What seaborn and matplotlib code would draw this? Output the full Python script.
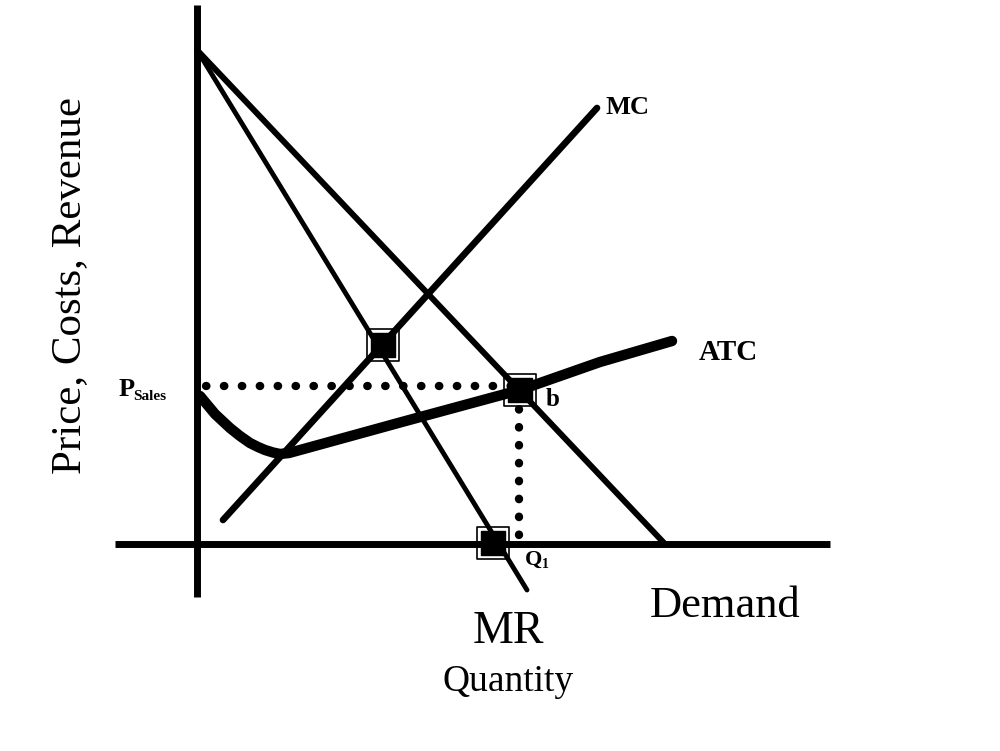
import matplotlib
matplotlib.use("Agg")
import matplotlib.pyplot as plt
import seaborn as sns
import pandas as pd

# economic units: quantity to the right of the price axis, price above the quantity axis
demand_q = [0.0, 46.8]
demand_p = [49.4, 0.0]
mr_q = [0.0, 33.0]
mr_p = [49.4, -4.6]
mc_q = [2.6, 40.0]
mc_p = [2.4, 43.6]
atc_q = [0.3, 1.8, 3.3, 4.3, 5.3, 6.1, 6.8, 7.6, 8.3, 9.2, 10.3, 20.3, 32.3, 36.3, 40.3, 47.5]
atc_p = [14.8, 13.0, 11.6, 10.8, 10.1, 9.7, 9.4, 9.15, 9.0, 9.1, 9.4, 12.15, 15.4, 16.8, 18.2, 20.3]

p_sales = 15.8
q1 = 32.2
square_q = [18.6, 32.3, 29.6]
square_p = [19.9, 15.4, 0.1]

sns.set_style("white")
plt.rcParams['font.family'] = ['Liberation Serif', 'DejaVu Serif']
plt.rcParams['text.color'] = 'black'

fig = plt.figure(figsize=(10, 7.51), dpi=100)
ax = fig.add_axes([0, 0, 1, 1])
ax.set_xlim(-19.7, 80.3)
ax.set_ylim(-20.7, 54.4)
ax.axis("off")

# axes of the diagram
ax.plot([0, 0], [-5.3, 53.9], color="black", lw=5, solid_capstyle="butt")
ax.plot([-8.2, 63.3], [0, 0], color="black", lw=5, solid_capstyle="butt")

curves = pd.DataFrame({
    "q": demand_q + mr_q + mc_q,
    "p": demand_p + mr_p + mc_p,
    "curve": ["Demand"] * 2 + ["MR"] * 2 + ["MC"] * 2,
})
sns.lineplot(data=curves[curves.curve == "Demand"], x="q", y="p", color="black",
             lw=4.3, sort=False, ax=ax)
sns.lineplot(data=curves[curves.curve == "MR"], x="q", y="p", color="black",
             lw=3.5, sort=False, ax=ax)
sns.lineplot(data=curves[curves.curve == "MC"], x="q", y="p", color="black",
             lw=4.8, sort=False, ax=ax)

atc = pd.DataFrame({"q": atc_q, "p": atc_p})
sns.lineplot(data=atc, x="q", y="p", color="black", lw=7.5, sort=False, ax=ax,
             solid_joinstyle="round", solid_capstyle="round")

# dotted guides
dots = (0, (0.05, 2.1))
ax.plot([0.9, q1 - 0.6], [p_sales, p_sales], color="black", lw=6, linestyle=dots,
        dash_capstyle="round")
ax.plot([q1, q1], [0.9, p_sales - 1.5], color="black", lw=6, linestyle=dots,
        dash_capstyle="round")

# intersection squares
ax.scatter(square_q, square_p, marker="s", s=520, facecolor="none",
           edgecolor="black", lw=1.2, zorder=5)
ax.scatter(square_q, square_p, marker="s", s=300, color="black", zorder=6)

ax.set_xlabel("")
ax.set_ylabel("")

# labels
ax.text(40.8, 43.6, "MC", fontsize=19, fontweight="bold", va="center")
ax.text(50.2, 19.2, "ATC", fontsize=21, fontweight="bold", va="center")
ax.text(34.9, 14.4, "b", fontsize=18, fontweight="bold", va="center")
ax.text(32.8, -1.6, "Q", fontsize=16, fontweight="bold", va="center")
ax.text(34.5, -2.1, "1", fontsize=10, fontweight="bold", va="center")
ax.text(-7.8, 15.4, "P", fontsize=19, fontweight="bold", va="center")
ax.text(-6.4, 14.7, "Sales", fontsize=11, fontweight="bold", va="center")
ax.text(45.3, -6.2, "Demand", fontsize=32, va="center")
ax.text(31.1, -8.8, "MR", fontsize=33, ha="center", va="center")
ax.text(31.1, -13.8, "Quantity", fontsize=27, ha="center", va="center")
ax.text(-12.7, 25.8, "Price, Costs, Revenue", fontsize=31, rotation=90,
        ha="center", va="center")

fig.savefig("out.png", dpi=100, facecolor="white")
